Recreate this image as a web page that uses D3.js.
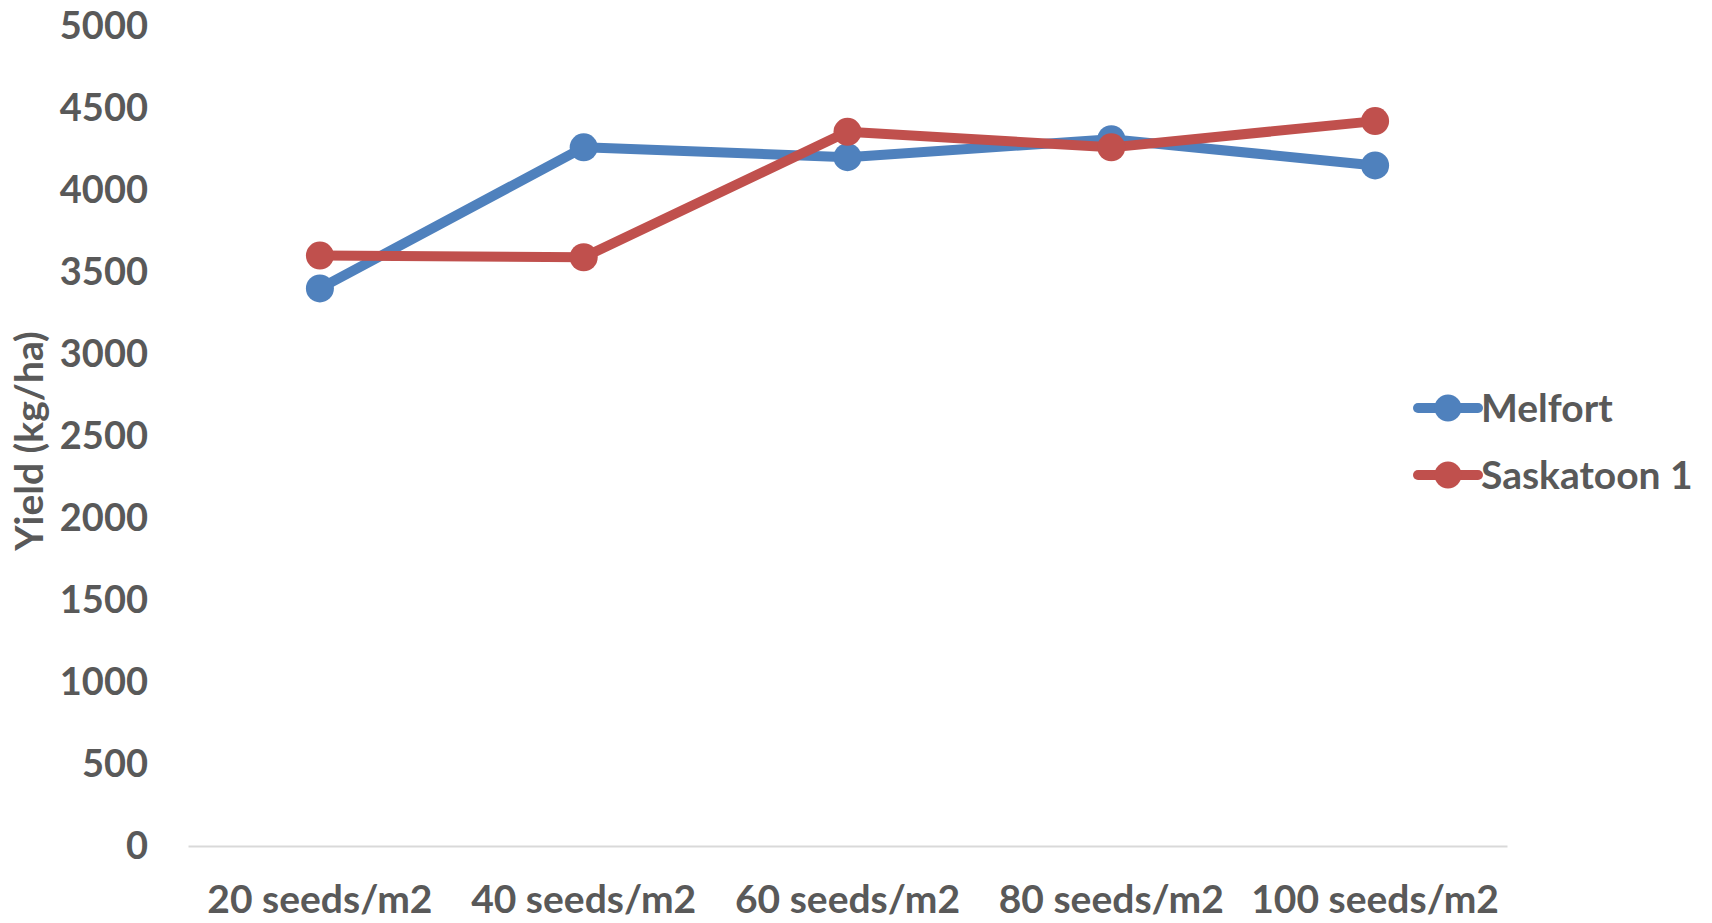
<!DOCTYPE html>
<html>
<head>
<meta charset="utf-8">
<script src="https://cdn.jsdelivr.net/npm/d3@7/dist/d3.min.js"></script>
<style>
  html, body { margin: 0; padding: 0; background: #fff; }
  svg { display: block; }
  text { font-family: Lato, "Open Sans", sans-serif; font-weight: 700; fill: #595959; }
</style>
</head>
<body>
<svg id="chart" width="1712" height="923"></svg>
<script>
// Seeding rate categories
const categories = ["20 seeds/m2", "40 seeds/m2", "60 seeds/m2", "80 seeds/m2", "100 seeds/m2"];
// Yield (kg/ha) per site
const melfort = [3400, 4260, 4200, 4310, 4150];
const saskatoon1 = [3600, 3590, 4355, 4260, 4420];
const seriesNames = ["Melfort", "Saskatoon 1"];
const seriesColors = ["#4F81BD", "#C0504D"];
const yTicks = [0, 500, 1000, 1500, 2000, 2500, 3000, 3500, 4000, 4500, 5000];

const series = [
  { name: seriesNames[0], color: seriesColors[0], values: melfort },
  { name: seriesNames[1], color: seriesColors[1], values: saskatoon1 }
];

const svg = d3.select("#chart");
const plot = { left: 188, right: 1507, top: 26, bottom: 846 };

const x = d3.scaleBand().domain(categories).range([plot.left, plot.right]);
const y = d3.scaleLinear().domain([0, 5000]).range([plot.bottom, plot.top]);

// Value axis: labels only
const yAxis = svg.append("g")
  .attr("transform", `translate(${plot.left - 40},0)`)
  .call(d3.axisLeft(y).tickValues(yTicks).tickFormat(d3.format("d")).tickSize(0).tickPadding(0));
yAxis.select(".domain").remove();
yAxis.selectAll("text")
  .attr("font-size", 38)
  .style("font-family", "Lato, sans-serif")
  .style("font-weight", 700)
  .attr("fill", "#595959");

// Category axis: baseline + labels
const xAxis = svg.append("g")
  .attr("transform", `translate(0,${plot.bottom})`)
  .call(d3.axisBottom(x).tickSize(0).tickPadding(39));
xAxis.select(".domain").attr("stroke", "#D9D9D9").attr("stroke-width", 2);
xAxis.selectAll("text")
  .attr("font-size", 39)
  .style("font-family", "Lato, sans-serif")
  .style("font-weight", 700)
  .attr("fill", "#595959");

// Axis title
svg.append("text")
  .attr("transform", `translate(43,441) rotate(-90)`)
  .attr("text-anchor", "middle")
  .attr("font-size", 39)
  .text("Yield (kg/ha)");

const cx = d => x(d) + x.bandwidth() / 2;
const line = d3.line()
  .x((v, i) => cx(categories[i]))
  .y(v => y(v));

const g = svg.append("g");
series.forEach(s => {
  g.append("path")
    .attr("d", line(s.values))
    .attr("fill", "none")
    .attr("stroke", s.color)
    .attr("stroke-width", 10)
    .attr("stroke-linejoin", "round")
    .attr("stroke-linecap", "round");
  g.selectAll(null)
    .data(s.values)
    .enter().append("circle")
    .attr("cx", (v, i) => cx(categories[i]))
    .attr("cy", v => y(v))
    .attr("r", 14)
    .attr("fill", s.color);
});

// Legend
const legend = svg.append("g").attr("transform", "translate(1418,408)");
series.forEach((s, i) => {
  const row = legend.append("g").attr("transform", `translate(0,${i * 67})`);
  row.append("line")
    .attr("x1", 0).attr("x2", 60).attr("y1", 0).attr("y2", 0)
    .attr("stroke", s.color).attr("stroke-width", 10).attr("stroke-linecap", "round");
  row.append("circle").attr("cx", 30).attr("cy", 0).attr("r", 13.5).attr("fill", s.color);
  row.append("text")
    .attr("x", 63).attr("y", 14)
    .attr("font-size", 39)
    .text(s.name);
});
</script>
</body>
</html>
